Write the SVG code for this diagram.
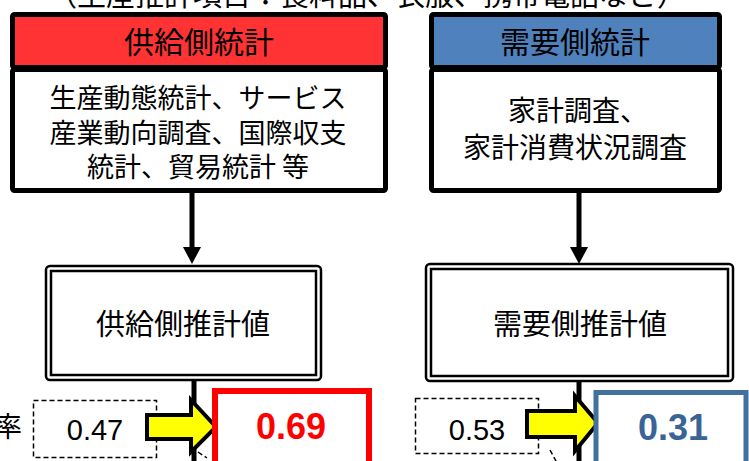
<svg xmlns="http://www.w3.org/2000/svg" width="749" height="461" viewBox="0 0 749 461">
<defs>
<style>
.jp{font-family:"Noto Sans CJK JP","Noto Sans CJK SC",sans-serif;fill:#000;text-anchor:middle}
.num{font-family:"Liberation Sans",Arial,sans-serif;text-anchor:middle}
.box{fill:#fff;stroke:#000;stroke-width:5}
.dbl{fill:none;stroke:#000;stroke-width:2.5}
.dash{fill:#fff;stroke:#000;stroke-width:1.5;stroke-dasharray:5 3}
.yarrow{fill:#FFFF00;stroke:#000;stroke-width:4;stroke-linejoin:miter}
.conn{stroke:#000;stroke-width:5;fill:none}
</style>
</defs>
<rect width="749" height="461" fill="#fff"/>
<text class="jp" x="367" y="6" font-size="29">（生産推計項目：食料品、衣服、携帯電話など）</text>

<g id="connectors">
<line class="conn" x1="192" y1="193" x2="192" y2="250"/>
<polygon points="183,247 201,247 192,264" fill="#000"/>
<line class="conn" x1="579" y1="193" x2="579" y2="250"/>
<polygon points="570,247 588,247 579,264" fill="#000"/>
<line class="conn" x1="194" y1="380" x2="194" y2="461"/>
<line class="conn" x1="579" y1="381" x2="579" y2="461"/>
<line x1="198" y1="452" x2="207" y2="458" stroke="#000" stroke-width="1.5" stroke-dasharray="5 3"/>
<line x1="550" y1="450" x2="556" y2="461" stroke="#000" stroke-width="1.5" stroke-dasharray="5 3"/>
</g>

<g id="supply-header">
<rect x="12.5" y="14.5" width="373" height="53" rx="2" fill="#FF3333" stroke="#000" stroke-width="5"/>
<text class="jp" x="199" y="53" font-size="30">供給側統計</text>
</g>
<g id="supply-sources">
<rect class="box" x="12.5" y="69.5" width="373" height="121" rx="2"/>
<text class="jp" font-size="27"><tspan x="198" y="108">生産動態統計、サービス</tspan><tspan x="198" y="143">産業動向調査、国際収支</tspan><tspan x="198" y="177">統計、貿易統計 等</tspan></text>
</g>

<g id="demand-header">
<rect x="431.5" y="14.5" width="288" height="53" rx="2" fill="#4F81BD" stroke="#000" stroke-width="5"/>
<text class="jp" x="575" y="53" font-size="30">需要側統計</text>
</g>
<g id="demand-sources">
<rect class="box" x="431.5" y="69.5" width="288" height="121" rx="2"/>
<text class="jp" font-size="28"><tspan x="578" y="121">家計調査、</tspan><tspan x="575" y="158">家計消費状況調査</tspan></text>
</g>

<g id="supply-estimate">
<rect class="dbl" x="46" y="266" width="275" height="114" rx="4" fill="#fff"/>
<rect class="dbl" x="51" y="271" width="265" height="104"/>
<text class="jp" x="183" y="335" font-size="29">供給側推計値</text>
</g>
<g id="demand-estimate">
<rect class="dbl" x="426" y="264" width="307" height="117" rx="4" fill="#fff"/>
<rect class="dbl" x="431" y="269" width="297" height="107"/>
<text class="jp" x="580" y="335" font-size="29">需要側推計値</text>
</g>

<g id="rate-label">
<text class="jp" x="22" y="437" font-size="28" style="text-anchor:end">率</text>
</g>

<g id="supply-weight">
<rect class="dash" x="33.5" y="400.5" width="123" height="57"/>
<text class="num" x="95" y="440" font-size="29">0.47</text>
</g>
<g id="supply-arrow">
<polygon class="yarrow" points="147,415 191,415 191,400 216,427 191,452 191,439 147,439"/>
</g>
<g id="supply-result">
<rect x="215" y="391" width="154" height="80" fill="#fff" stroke="#FF0000" stroke-width="6"/>
<text class="num" x="291" y="439" font-size="36" font-weight="bold" fill="#FF0000">0.69</text>
</g>

<g id="demand-weight">
<rect class="dash" x="415.5" y="398.5" width="123" height="55"/>
<text class="num" x="477" y="440" font-size="29">0.53</text>
</g>
<g id="demand-arrow">
<polygon class="yarrow" points="527,411 575,411 575,396 598,423 575,451 575,437 527,437"/>
</g>
<g id="demand-result">
<rect x="596" y="392.5" width="150" height="80" fill="#fff" stroke="#41719C" stroke-width="5"/>
<text class="num" x="673" y="440" font-size="36" font-weight="bold" fill="#3B6496">0.31</text>
</g>
</svg>
